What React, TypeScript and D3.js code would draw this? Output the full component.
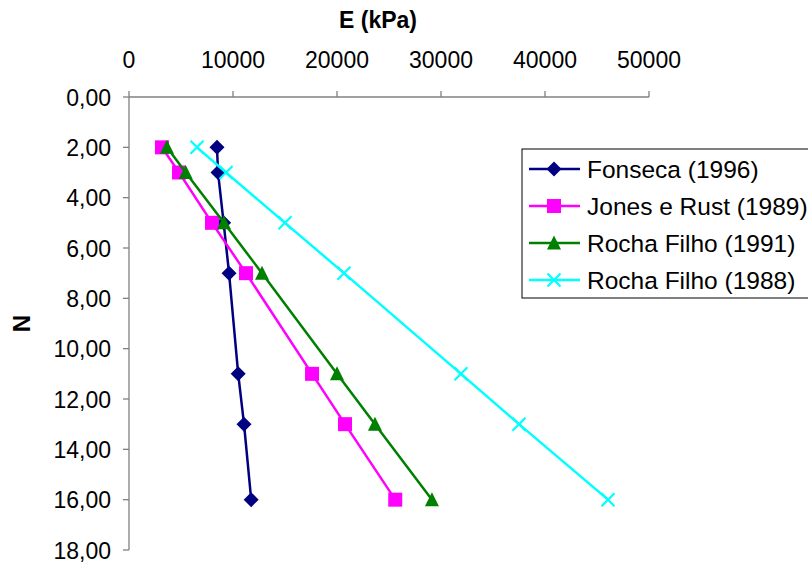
import React from "react";
import * as d3 from "d3";

// Depth levels (N) shared by all series
const nLevels = [2, 3, 5, 7, 11, 13, 16];

// Modulus E (kPa) per series
const fonseca1996 = [8460, 8560, 9100, 9620, 10500, 11060, 11750];
const jonesRust1989 = [3170, 4810, 7980, 11250, 17600, 20770, 25600];
const rochaFilho1991 = [3650, 5450, 9130, 12790, 20000, 23650, 29130];
const rochaFilho1988 = [6540, 9330, 15000, 20670, 31920, 37500, 46060];

const seriesNames = [
  "Fonseca (1996)",
  "Jones e Rust (1989)",
  "Rocha Filho (1991)",
  "Rocha Filho (1988)",
];
const seriesColors = ["#000080", "#FF00FF", "#008000", "#00FFFF"];
const seriesMarkers = ["diamond", "square", "triangle", "cross"];
const seriesValues = [fonseca1996, jonesRust1989, rochaFilho1991, rochaFilho1988];

const xTicks = [0, 10000, 20000, 30000, 40000, 50000];
const yTicks = [0, 2, 4, 6, 8, 10, 12, 14, 16, 18];

const W = 808;
const H = 563;
const FONT = "'Liberation Sans', Arial, Helvetica, sans-serif";

const x = d3.scaleLinear().domain([0, 50000]).range([129, 649]);
const y = d3.scaleLinear().domain([0, 18]).range([97, 550]);

const fmtY = (v: number) => d3.format(".2f")(v).replace(".", ",");

function Marker({ kind, cx, cy, color }: { kind: string; cx: number; cy: number; color: string }) {
  if (kind === "diamond") {
    const r = 7.5;
    return (
      <path
        d={`M${cx},${cy - r}L${cx + r},${cy}L${cx},${cy + r}L${cx - r},${cy}Z`}
        fill={color}
      />
    );
  }
  if (kind === "square") {
    const s = 14;
    return <rect x={cx - s / 2} y={cy - s / 2} width={s} height={s} fill={color} />;
  }
  if (kind === "triangle") {
    const w = 14;
    const h = 13;
    return (
      <path
        d={`M${cx},${cy - h / 2 - 1}L${cx + w / 2},${cy + h / 2}L${cx - w / 2},${cy + h / 2}Z`}
        fill={color}
      />
    );
  }
  const r = 6.5;
  return (
    <path
      d={`M${cx - r},${cy - r}L${cx + r},${cy + r}M${cx - r},${cy + r}L${cx + r},${cy - r}`}
      stroke={color}
      strokeWidth={2.2}
      fill="none"
    />
  );
}

export default function App() {
  const line = d3
    .line<[number, number]>()
    .x((d) => x(d[0]))
    .y((d) => y(d[1]));

  const axisColor = "#808080";

  return (
    <svg
      width={W}
      height={H}
      viewBox={`0 0 ${W} ${H}`}
      style={{ position: "absolute", left: 0, top: 0, background: "#fff" }}
      fontFamily={FONT}
    >
      <rect x={0} y={0} width={W} height={H} fill="#fff" />

      {/* Axis titles */}
      <text x={378} y={28} fontSize={23} fontWeight="bold" textAnchor="middle" fill="#000">
        E (kPa)
      </text>
      <text
        transform={`translate(30,${(y(0) + y(18)) / 2}) rotate(-90)`}
        fontSize={24}
        fontWeight="bold"
        textAnchor="middle"
        fill="#000"
      >
        N
      </text>

      {/* Top x axis */}
      <line x1={x(0)} x2={x(50000)} y1={y(0)} y2={y(0)} stroke={axisColor} strokeWidth={1.3} />
      {xTicks.map((t) => (
        <g key={`xt${t}`}>
          <line x1={x(t)} x2={x(t)} y1={y(0) - 6} y2={y(0)} stroke={axisColor} strokeWidth={1.3} />
          <text x={x(t)} y={68} fontSize={23} textAnchor="middle" fill="#000">
            {t}
          </text>
        </g>
      ))}

      {/* Left y axis */}
      <line x1={x(0)} x2={x(0)} y1={y(0)} y2={y(18)} stroke={axisColor} strokeWidth={1.3} />
      {yTicks.map((t) => (
        <g key={`yt${t}`}>
          <line x1={x(0) - 6} x2={x(0)} y1={y(t)} y2={y(t)} stroke={axisColor} strokeWidth={1.3} />
          <text x={111} y={y(t) + 8.5} fontSize={23} textAnchor="end" fill="#000">
            {fmtY(t)}
          </text>
        </g>
      ))}

      {/* Series */}
      {seriesValues.map((vals, i) => {
        const pts: [number, number][] = vals.map((v, j) => [v, nLevels[j]]);
        return (
          <g key={seriesNames[i]}>
            <path d={line(pts) || ""} fill="none" stroke={seriesColors[i]} strokeWidth={2.5} />
            {pts.map((p, j) => (
              <Marker
                key={j}
                kind={seriesMarkers[i]}
                cx={x(p[0])}
                cy={y(p[1])}
                color={seriesColors[i]}
              />
            ))}
          </g>
        );
      })}

      {/* Legend */}
      <rect x={522} y={149} width={320} height={149} fill="#fff" stroke="#000" strokeWidth={1} />
      {seriesNames.map((name, i) => {
        const cy = 169 + i * 37;
        return (
          <g key={`lg${i}`}>
            <line x1={529} x2={580} y1={cy} y2={cy} stroke={seriesColors[i]} strokeWidth={2.5} />
            <Marker kind={seriesMarkers[i]} cx={554} cy={cy} color={seriesColors[i]} />
            <text x={587} y={cy + 8.5} fontSize={24.5} fill="#000">
              {name}
            </text>
          </g>
        );
      })}
    </svg>
  );
}
